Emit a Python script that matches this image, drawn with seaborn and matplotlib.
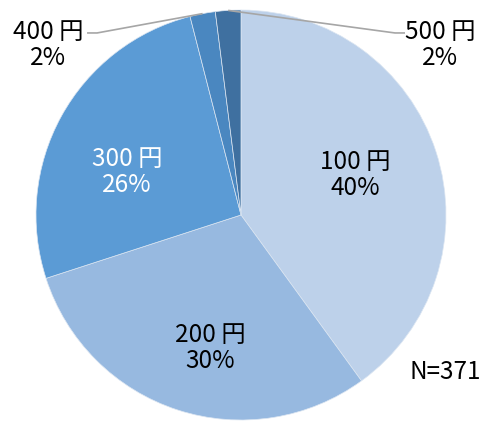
import numpy as np
import seaborn as sns
import matplotlib.pyplot as plt

# data
categories = ['100 円', '200 円', '300 円', '400 円', '500 円']
shares = [40, 30, 26, 2, 2]
n_total = 371
colors = ['#BDD1EA', '#97B9E0', '#5B9BD5', '#4A87C0', '#3F70A0']
text_colors = ['black', 'black', 'white']

sns.set_theme(style='white')
plt.rcParams['font.family'] = ['Noto Sans CJK JP', 'DejaVu Sans']

fig = plt.figure(figsize=(4.97, 4.21), dpi=100)
ax = fig.add_axes([0, 0, 1, 1])

# pixel layout helpers: pie centre at (241, 215), radius 205 px
cx, cy, r = 241, 215, 205

wedges, _ = ax.pie(shares, colors=colors, startangle=90, counterclock=False,
                   radius=1, center=(0, 0), frame=True,
                   wedgeprops=dict(edgecolor='#DCE6F2', linewidth=0.5))
ax.set_xlim(-cx / r, (497 - cx) / r)
ax.set_ylim(-(421 - cy) / r, cy / r)
ax.set_aspect('equal')
ax.axis('off')

fs = 17.5
# labels inside the big slices
inside_pos = [(0.556, 0.195), (-0.151, -0.649), (-0.556, 0.21)]
for i, (x, y) in enumerate(inside_pos):
    ax.text(x, y, f'{categories[i]}\n{shares[i]}%', ha='center', va='center',
            fontsize=fs, color=text_colors[i], linespacing=1.0)

# small slices with leader lines
outside = [(3, (-0.941, 0.83), (-0.751, -0.702)), (4, (0.971, 0.83), (0.8, 0.751))]
for i, (tx, ty), (x0, x1) in outside:
    w = wedges[i]
    mid = np.deg2rad((w.theta1 + w.theta2) / 2)
    ex, ey = np.cos(mid), np.sin(mid)
    ax.plot([x0, x1, ex], [0.888, 0.888, ey], color='#A6A6A6', lw=1.2,
            solid_capstyle='butt', zorder=5)
    ax.text(tx, ty, f'{categories[i]}\n{shares[i]}%', ha='center', va='center',
            fontsize=fs, color='black', linespacing=1.0)

ax.text(0.995, -0.766, f'N={n_total}', ha='center', va='center',
        fontsize=fs, color='black')

fig.savefig('out.png', dpi=100)
